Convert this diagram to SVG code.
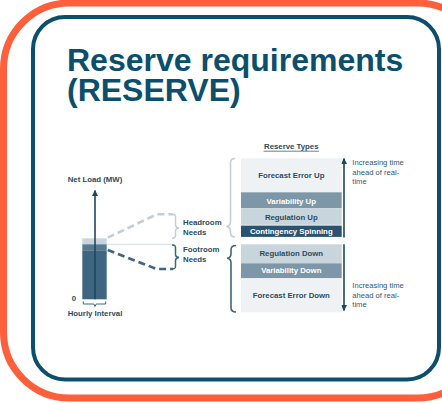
<svg xmlns="http://www.w3.org/2000/svg" width="442" height="404" viewBox="0 0 442 404">
<defs>
<style>
.t{font-family:"Liberation Sans",Arial,sans-serif;font-weight:bold;fill:#0c4f6d}
.l{font-family:"Liberation Sans",Arial,sans-serif;font-weight:bold;font-size:7.8px;fill:#2c4b63}
.lw{font-family:"Liberation Sans",Arial,sans-serif;font-weight:bold;font-size:7.8px;fill:#ffffff}
.n{font-family:"Liberation Sans",Arial,sans-serif;font-size:7.6px;fill:#2f5877}
.ax{stroke:#1c4863;stroke-width:1.6;fill:none}
</style>
<marker id="ah" viewBox="0 0 10 10" refX="9" refY="5" markerWidth="6" markerHeight="6" orient="auto-start-reverse" markerUnits="userSpaceOnUse">
<path d="M0,0 L10,5 L0,10 z" fill="#1c4863"/>
</marker>
</defs>
<rect width="442" height="404" fill="#ffffff"/>
<rect id="outer" x="3.5" y="3" width="480" height="395" rx="66" fill="none" stroke="#ff5f3b" stroke-width="7"/>
<rect id="inner" x="33" y="17" width="406" height="362.5" rx="32" fill="#ffffff" stroke="#0c4f6d" stroke-width="4"/>
<g id="title">
<text class="t" x="67" y="70.5" font-size="32">Reserve requirements</text>
<text class="t" x="67" y="101" font-size="32">(RESERVE)</text>
</g>
<g id="chart">
<text class="l" x="95" y="181.7" text-anchor="middle">Net Load (MW)</text>
<rect x="82.3" y="238.3" width="24.4" height="6" fill="#c8d4dc"/>
<rect x="82.3" y="244.3" width="24.4" height="6" fill="#557b93"/>
<rect x="82.3" y="250.3" width="24.4" height="49" fill="#3e6681"/>
<text class="l" x="74" y="300.5" text-anchor="middle">0</text>
<path d="M83.3,301.5 v2.5 h10.5 l1.2,2.5 l1.2,-2.5 h9.5 v-2.5" fill="none" stroke="#3e6681" stroke-width="1"/>
<text class="l" x="95" y="316" text-anchor="middle">Hourly Interval</text>
</g>
<g id="connectors">
<line class="ax" x1="95" y1="299.3" x2="95" y2="190.5" marker-end="url(#ah)"/>
<path d="M107.7,237.7 L156.7,214.3 H173" fill="none" stroke="#c3cfd7" stroke-width="2.6" stroke-dasharray="7,4"/>
<line x1="107" y1="244.3" x2="175" y2="244.3" stroke="#d3dce2" stroke-width="1"/>
<path d="M107.7,250 L156.7,269 H173" fill="none" stroke="#3e6681" stroke-width="2.6" stroke-dasharray="7,4"/>
<line class="ax" x1="344" y1="237.5" x2="344" y2="158.5" marker-end="url(#ah)"/>
<line class="ax" x1="344" y1="244.3" x2="344" y2="310.5" marker-end="url(#ah)"/>
</g>
<g id="headroom">
<path d="M172,214.3 C175,214.3 175.5,215 175.5,217 V225 C175.5,227 176.5,227.8 179,228 C176.5,228.2 175.5,229 175.5,231 V235.5 C175.5,237.5 175,238.3 172,238.3" fill="none" stroke="#c3cfd7" stroke-width="1.5"/>
<text class="l" x="183" y="225">Headroom</text>
<text class="l" x="183" y="235">Needs</text>
</g>
<g id="footroom">
<path d="M172,245 C175,245 175.5,245.7 175.5,247.7 V254.5 C175.5,256.5 176.5,257.3 179,257.5 C176.5,257.7 175.5,258.5 175.5,260.5 V266.3 C175.5,268.3 175,269 172,269" fill="none" stroke="#3e6681" stroke-width="1.5"/>
<text class="l" x="183" y="252.3">Footroom</text>
<text class="l" x="183" y="262">Needs</text>
</g>
<g id="brace-up">
<path d="M235,158.5 C231.5,158.5 230.5,160 230.5,163 V221.5 C230.5,224.5 229.5,226.2 226.5,226.5 C229.5,226.8 230.5,228.5 230.5,231.5 V232.5 C230.5,235.5 231.5,237 235,237" fill="none" stroke="#c3cfd7" stroke-width="1.6"/>
</g>
<g id="brace-down">
<path d="M236,245.5 C232,245.5 231,247 231,250 V253.5 C231,256.5 230,258 227,258.3 C230,258.6 231,260 231,263 V307.5 C231,310.5 232,312 236,312" fill="none" stroke="#3e6681" stroke-width="1.6"/>
</g>
<g id="reserve-types">
<text class="l" x="291.3" y="149.3" text-anchor="middle">Reserve Types</text>
<line x1="263.5" y1="151.2" x2="319" y2="151.2" stroke="#2c4b63" stroke-width="0.7"/>
</g>
<g id="forecast-up">
<rect x="241" y="158.3" width="100.7" height="34" fill="#eef2f5"/>
<text class="l" x="291.3" y="177.7" text-anchor="middle">Forecast Error Up</text>
</g>
<g id="variability-up">
<rect x="241" y="192.3" width="100.7" height="16" fill="#7e97a8"/>
<text class="lw" x="291.3" y="203.5" text-anchor="middle">Variability  Up</text>
</g>
<g id="regulation-up">
<rect x="241" y="208.3" width="100.7" height="16.5" fill="#c9d5dd"/>
<text class="l" x="291.3" y="219.5" text-anchor="middle">Regulation Up</text>
</g>
<g id="contingency">
<rect x="241" y="225.6" width="100.7" height="11.3" fill="#2a5372"/>
<text class="lw" x="291.3" y="234" text-anchor="middle">Contingency Spinning</text>
</g>
<g id="regulation-down">
<rect x="241" y="244.3" width="100.7" height="19" fill="#c9d5dd"/>
<text class="l" x="291.3" y="256" text-anchor="middle">Regulation Down</text>
</g>
<g id="variability-down">
<rect x="241" y="263.3" width="100.7" height="15" fill="#7e97a8"/>
<text class="lw" x="291.3" y="273" text-anchor="middle">Variability  Down</text>
</g>
<g id="forecast-down">
<rect x="241" y="278.3" width="100.7" height="34" fill="#eef2f5"/>
<text class="l" x="291.3" y="297.7" text-anchor="middle">Forecast Error Down</text>
</g>
<g id="note-up">
<text class="n" x="352.3" y="165">Increasing time</text>
<text class="n" x="352.3" y="175">ahead of real-</text>
<text class="n" x="352.3" y="184.3">time</text>
</g>
<g id="note-down">
<text class="n" x="352.3" y="288.3">Increasing time</text>
<text class="n" x="352.3" y="297.5">ahead of real-</text>
<text class="n" x="352.3" y="306.7">time</text>
</g>
</svg>
